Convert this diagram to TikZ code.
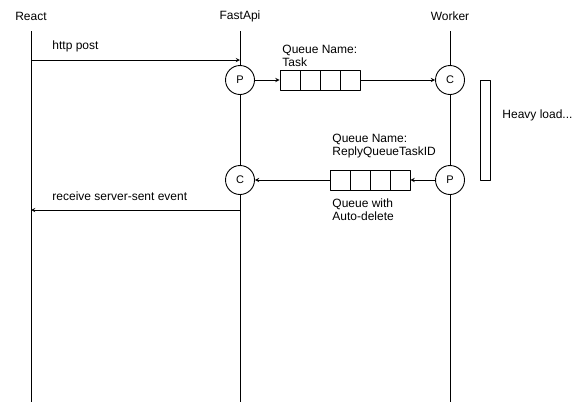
\documentclass[tikz,border=0pt]{standalone}
\usepackage{fontspec}
\setmainfont{Liberation Sans}
\tikzset{
	circ/.style={circle,draw,fill=white,minimum size=29pt,inner sep=0pt,font=\fontsize{11}{13}\selectfont},
	cell/.style={draw,fill=white,minimum width=20pt,minimum height=20pt,inner sep=0pt},
	txt/.style={anchor=west,align=left,inner sep=0pt}
}
\begin{document}
\begin{tikzpicture}[x=1pt,y=-1pt,line join=round,font=\fontsize{12}{13}\selectfont,>=stealth,line width=0.9pt]
				\useasboundingbox (0,0) rectangle (580,402);
				% lifelines
				\foreach \x/\n/\t in {31/R/React,240/F/FastApi,450/W/Worker}{
					\node (\n) at (\x,16) {\t};
					\coordinate (\n top) at (\x,31);
					\coordinate (\n bot) at (\x,402);
					\draw (\n top)--(\n bot);
				};
				\path 
				(31,60) coordinate (R1)
				(240,60) coordinate (F1)
				(240,210) coordinate (F2)
				(31,210) coordinate (R2)
				;
				\draw[->] (R1)--(F1);
				\draw[->] (F2)--(R2);
				\node[txt] (post) at (52,46) {http post};
				\node[txt] (sse) at (52,196) {receive server-sent event};
				% circles
				\node[circ] (P1) at (240,80) {P};
				\node[circ] (C1) at (450,80) {C};
				\node[circ] (C2) at (240,180) {C};
				\node[circ] (P2) at (450,180) {P};
				% queues
				\foreach \i in {0,...,3}{
					\node[cell] (qa\i) at (290+20*\i,80) {};
					\node[cell] (qb\i) at (340+20*\i,180) {};
				};
				\draw[->] (P1)--(qa0.west);
				\draw[->] (qa3.east)--(C1);
				\draw[->] (P2)--(qb3.east);
				\draw[->] (qb0.west)--(C2);
				\node[txt] (qaname) at (282,56) {Queue Name:\\Task};
				\node[txt] (qbname) at (332,146.5) {Queue Name:\\ReplyQueueTaskID};
				\node[txt] (qbnote) at (332,210) {Queue with\\Auto-delete};
				% heavy load
				\node[draw,minimum width=10pt,minimum height=100pt,inner sep=0pt,anchor=north west] (load) at (480,80) {};
				\node[txt] (heavy) at (502,115) {Heavy load...};
			\end{tikzpicture}
\end{document}
